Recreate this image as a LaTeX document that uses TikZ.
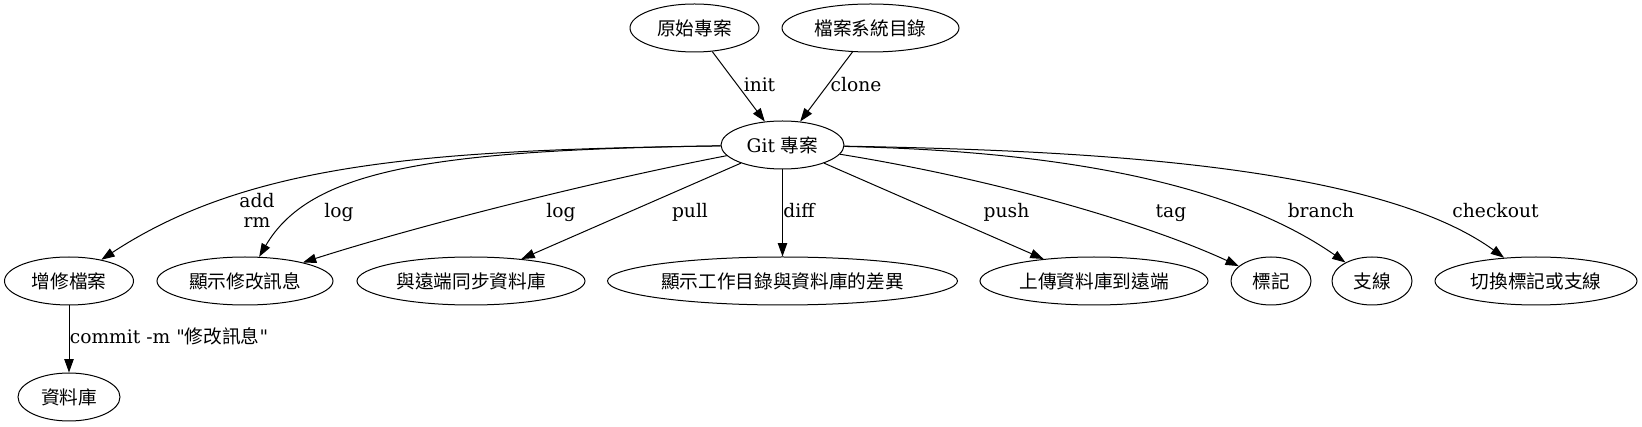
\documentclass[tikz,border=0pt]{standalone}
\usepackage{fontspec}
\setmainfont{DejaVu Serif}
\newfontfamily\qfont{DejaVu Serif}
\newfontfamily\cjk{Noto Sans CJK TC}
\usetikzlibrary{arrows.meta,shapes.geometric}
\tikzset{
  gnode/.style={draw, ellipse, line width=0.75pt, inner sep=0pt, minimum height=36pt,
    font=\fontsize{14}{15}\selectfont},
  gedge/.style={draw, line width=0.75pt, -{Triangle[length=10pt,width=7pt]}},
  glabel/.style={inner sep=0pt, anchor=base, font=\fontsize{14}{15}\selectfont},
}
\begin{document}
\begin{tikzpicture}[x=0.75pt,y=-0.75pt]
\useasboundingbox (0,0) rectangle (1642,427);
% nodes
\node[gnode, minimum width=96.75pt]  (orig)    at (694.5,28)  {{\cjk 原始專案}};
\node[gnode, minimum width=132.75pt] (fs)      at (870.5,28)  {{\cjk 檔案系統目錄}};
\node[gnode, minimum width=92.25pt]  (git)     at (782.5,145) {Git {\cjk 專案}};
\node[gnode, minimum width=96.75pt]  (addf)    at (69,281)    {{\cjk 增修檔案}};
\node[gnode, minimum width=76.5pt]   (repo)    at (69,397)    {{\cjk 資料庫}};
\node[gnode, minimum width=132pt]    (showlog) at (245,281)   {{\cjk 顯示修改訊息}};
\node[gnode, minimum width=171pt]    (sync)    at (471,281)   {{\cjk 與遠端同步資料庫}};
\node[gnode, minimum width=262.5pt]  (diffn)   at (782.5,281) {{\cjk 顯示工作目錄與資料庫的差異}};
\node[gnode, minimum width=171pt]    (pushn)   at (1094,281)  {{\cjk 上傳資料庫到遠端}};
\node[gnode, minimum width=60pt]     (tagn)    at (1271,281)  {{\cjk 標記}};
\node[gnode, minimum width=60pt]     (branchn) at (1372,281)  {{\cjk 支線}};
\node[gnode, minimum width=151.5pt]  (checkn)  at (1536,281)  {{\cjk 切換標記或支線}};
% edges
\draw[gedge] (orig) -- (git);
\draw[gedge] (fs) -- (git);
\draw[gedge] (git) .. controls (430,150) and (250,162) .. (addf);
\draw[gedge] (git) .. controls (430,150) and (310,170) .. (showlog);
\draw[gedge] (git) .. controls (600,180) and (420,225) .. (showlog);
\draw[gedge] (git) -- (sync);
\draw[gedge] (git) -- (diffn);
\draw[gedge] (git) -- (pushn);
\draw[gedge] (git) .. controls (1000,180) and (1150,225) .. (tagn);
\draw[gedge] (git) .. controls (1000,150) and (1210,168) .. (branchn);
\draw[gedge] (git) .. controls (1050,150) and (1370,160) .. (checkn);
\draw[gedge] (addf) -- (repo);
% labels
\node[glabel] (lInit)   at (759.5,92) {init};
\node[glabel] (lClone)  at (856,92)   {clone};
\node[glabel, align=center] (lAdd) at (257,228) {add\\rm};
\node[glabel] (lLog1)   at (339,218)  {log};
\node[glabel] (lLog2)   at (561,218)  {log};
\node[glabel] (lPull)   at (690,218)  {pull};
\node[glabel] (lDiff)   at (799,218)  {diff};
\node[glabel] (lPush)   at (1006.5,218) {push};
\node[glabel] (lTag)    at (1171,218) {tag};
\node[glabel] (lBranch) at (1321,218) {branch};
\node[glabel] (lCheck)  at (1495.5,218) {checkout};
\node[glabel] (lCommit) at (169,344)  {commit -m {\qfont"}{\cjk 修改訊息}{\qfont"}};
\end{tikzpicture}
\end{document}
